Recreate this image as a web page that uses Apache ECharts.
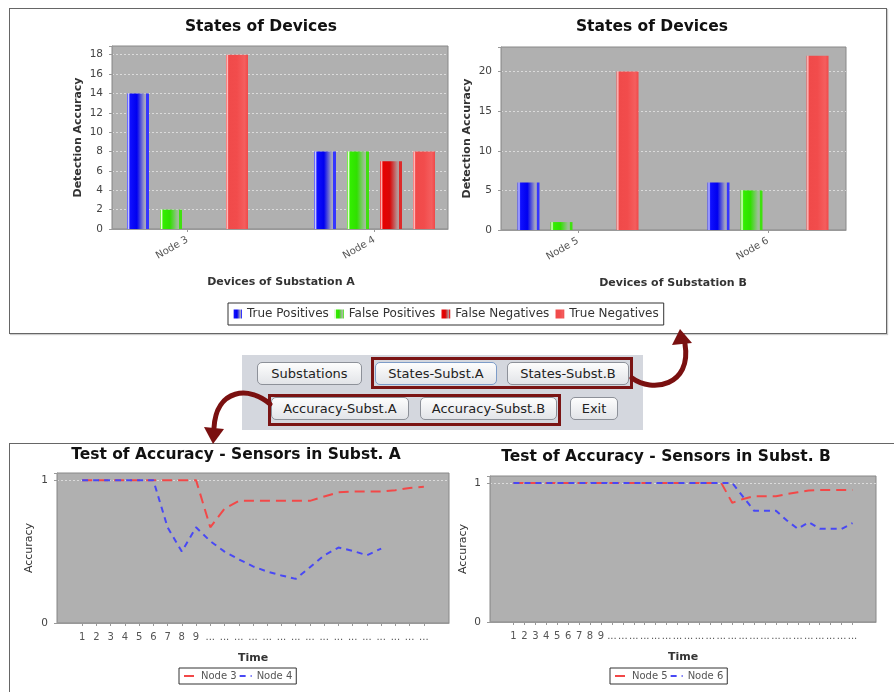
<!DOCTYPE html>
<html>
<head>
<meta charset="utf-8">
<title>States of Devices / Test of Accuracy</title>
<script src="https://cdn.jsdelivr.net/npm/echarts@6/dist/echarts.min.js"></script>
<style>
  html, body { margin:0; padding:0; background:#fff; }
  body { width:894px; height:692px; position:relative; overflow:hidden; font-family:'DejaVu Sans', sans-serif; }
  #topBox { position:absolute; left:9px; top:8px; width:876px; height:324px; border:1px solid #666; box-shadow:1px 1px 1px rgba(0,0,0,0.2); background:#fff; }
  #botBox { position:absolute; left:9px; top:443px; width:900px; height:260px; border:1px solid #666; background:#fff; }
  #chart { position:absolute; left:0; top:0; width:894px; height:692px; z-index:1; }
  #panel { position:absolute; left:242px; top:355px; width:401px; height:75px; background:#d4d7de; z-index:2; }
  .btn { position:absolute; height:23px; line-height:21px; text-align:center; font-size:13px; color:#222;
         border:1px solid #8d9199; border-radius:5px; background:linear-gradient(#fdfdfd, #e2e4e8); box-sizing:border-box; }
  .focus { border-color:#7d9cc8; }
  .sel { position:absolute; border:3px solid #7a1414; box-sizing:border-box; }
  #arrows { position:absolute; left:0; top:0; z-index:3; }
</style>
</head>
<body>
<div id="topBox"></div>
<div id="botBox"></div>
<div id="chart"></div>
<div id="panel">
  <div class="sel" style="left:129px;top:2px;width:262px;height:32px;"></div>
  <div class="sel" style="left:26px;top:39px;width:293px;height:32px;"></div>
  <div class="btn" style="left:15px;top:7px;width:105px;">Substations</div>
  <div class="btn focus" style="left:133px;top:7px;width:122px;">States-Subst.A</div>
  <div class="btn" style="left:265px;top:7px;width:122px;">States-Subst.B</div>
  <div class="btn" style="left:29px;top:42px;width:138px;">Accuracy-Subst.A</div>
  <div class="btn" style="left:178px;top:42px;width:137px;">Accuracy-Subst.B</div>
  <div class="btn" style="left:328px;top:42px;width:48px;">Exit</div>
</div>
<svg id="arrows" width="894" height="692">
  <path d="M632,378 C652,393 692,386 685,344" fill="none" stroke="#7a1010" stroke-width="5" stroke-linecap="round"/>
  <polygon points="680,329 672,345 692,343" fill="#7a1010"/>
  <path d="M270,404 C250,386 216,388 214,428" fill="none" stroke="#7a1010" stroke-width="5" stroke-linecap="round"/>
  <polygon points="213,444 204,427 224,429" fill="#7a1010"/>
</svg>
<script>
// bar chart data
const devicesA = ['Node 3', 'Node 4'];
const devicesB = ['Node 5', 'Node 6'];
const stateNames = ['True Positives', 'False Positives', 'False Negatives', 'True Negatives'];
const truePosA = [14, 8];
const falsePosA = [2, 8];
const falseNegA = [0, 7];
const trueNegA = [18, 8];
const truePosB = [6, 6];
const falsePosB = [1, 5];
const falseNegB = [0, 0];
const trueNegB = [20, 22];

// accuracy over time
const timeA = ['1','2','3','4','5','6','7','8','9',
  '...','...','...','...','...','...','...','...','...','...','...','...','...','...','...','...'];
const timeB = ['1','2','3','4','5','6','7','8','9',
  '...','...','...','...','...','...','...','...','...','...','...','...',
  '...','...','...','...','...','...','...','...','...','...','...'];
const node3 = [1,1,1,1,1,1,1,1,1,0.67,0.80,0.855,0.855,0.855,0.855,0.855,0.855,0.885,0.915,0.92,0.92,0.92,0.93,0.945,0.953];
const node4 = [1,1,1,1,1,1,0.67,0.50,0.67,0.573,0.50,0.446,0.396,0.36,0.333,0.309,0.39,0.474,0.528,0.505,0.474,0.521,null,null,null];
const node5 = [1,1,1,1,1,1,1,1,1,1,1,1,1,1,1,1,1,1,1,1,0.857,0.885,0.905,0.905,0.905,0.92,0.933,0.945,0.95,0.95,0.95,0.95];
const node6 = [1,1,1,1,1,1,1,1,1,1,1,1,1,1,1,1,1,1,1,1,1,0.90,0.80,0.80,0.80,0.73,0.67,0.718,0.67,0.67,0.67,0.711];

const font = 'DejaVu Sans';
const red = '#f24848', blue = '#4848f5';

function grad(stops){
  return new echarts.graphic.LinearGradient(0, 0, 1, 0, stops.map(s => ({ offset: s[0], color: s[1] })));
}
const barColors = [
  grad([[0,'#3d3dff'],[0.07,'#c8c8ff'],[0.14,'#1010ff'],[0.45,'#0000f0'],[0.78,'#9c9cc4'],[0.86,'#aaaab8'],[0.88,'#3535ff'],[1,'#3535ff']]),
  grad([[0,'#44e010'],[0.07,'#e8ffd8'],[0.14,'#33ee00'],[0.45,'#30e000'],[0.78,'#98c090'],[0.86,'#a8b8a0'],[0.88,'#40e010'],[1,'#40e010']]),
  grad([[0,'#e82020'],[0.07,'#ffb0b0'],[0.14,'#e80000'],[0.45,'#d80808'],[0.78,'#b89090'],[0.86,'#b0a0a0'],[0.88,'#dd2a2a'],[1,'#dd2a2a']]),
  grad([[0,'#f45a5a'],[0.06,'#ffc8c8'],[0.12,'#f04a4a'],[0.5,'#f24c4c'],[0.85,'#f45e5e'],[1,'#f04848']])
];

const tickFmt = step => v => Number.isInteger(Math.round(v * 1000) / 1000 / step) ? String(v) : '';

function frameX(g){
  return { gridIndex: g, type: 'value', min: 0, max: 1, offset: 2,
    axisLine: { show: true, lineStyle: { color: '#999' } },
    axisTick: { show: false }, axisLabel: { show: false }, splitLine: { show: false } };
}
function frameY(g, max, step, name, gap, bold){
  return { gridIndex: g, type: 'value', min: 0, max: max, interval: step, offset: 2,
    name: name, nameLocation: 'middle', nameGap: gap,
    nameTextStyle: { fontFamily: font, fontSize: 11, fontWeight: bold ? 'bold' : 'normal', color: '#333' },
    axisLine: { show: true, lineStyle: { color: '#999' } },
    axisTick: { show: true, length: 3, lineStyle: { color: '#999' } },
    axisLabel: { margin: 7, color: '#444', fontSize: 10.5, fontFamily: font, formatter: tickFmt(step) },
    splitLine: { show: true, showMinLine: false, showMaxLine: false, lineStyle: { color: 'rgba(255,255,255,0.55)', type: [2, 2] } } };
}
function catX(g, data, name, gap, rotate, margin){
  return { gridIndex: g, type: 'category', data: data, offset: 2,
    name: name, nameLocation: 'middle', nameGap: gap,
    nameTextStyle: { fontFamily: font, fontSize: 11, fontWeight: 'bold', color: '#333' },
    axisLine: { show: false },
    axisTick: { show: true, alignWithLabel: true, interval: 0, length: 3, lineStyle: { color: '#999' } },
    axisLabel: { interval: 0, rotate: rotate, margin: margin, color: '#555', fontSize: 10, fontFamily: font },
    splitLine: { show: false } };
}
function hiddenY(g, max){
  return { gridIndex: g, type: 'value', min: 0, max: max, show: false };
}
const frameStyle = { show: true, backgroundColor: '#b0b0b0', borderColor: '#888', borderWidth: 1, outerBoundsMode: 'none' };

function bars(values, x){
  return values.map((d, i) => ({
    name: stateNames[i], type: 'bar', xAxisIndex: x, yAxisIndex: x, data: d,
    barWidth: 22, barGap: '50%', itemStyle: { color: barColors[i] }
  }));
}
function line(name, data, x, color, dash){
  return { name: name, type: 'line', xAxisIndex: x, yAxisIndex: x, data: data, symbol: 'none',
    lineStyle: { color: color, width: 2, type: dash }, itemStyle: { color: color } };
}
function lineLegend(names, left){
  return { data: names, left: left, top: 668, padding: [3, 4, 3, 4], itemGap: 2, itemWidth: 12, itemHeight: 6,
    itemStyle: { opacity: 0 }, borderColor: '#333', borderWidth: 1,
    textStyle: { fontSize: 10, color: '#555', fontFamily: font } };
}

const chart = echarts.init(document.getElementById('chart'));
chart.setOption({
  animation: false,
  backgroundColor: 'transparent',
  textStyle: { fontFamily: font },
  title: [
    { text: 'States of Devices', left: 261, top: 19, textAlign: 'center', padding: 0, textStyle: { fontSize: 15.5, fontWeight: 'bold', color: '#111' } },
    { text: 'States of Devices', left: 652, top: 19, textAlign: 'center', padding: 0, textStyle: { fontSize: 15.5, fontWeight: 'bold', color: '#111' } },
    { text: 'Test of Accuracy - Sensors in Subst. A', left: 236, top: 447, textAlign: 'center', padding: 0, textStyle: { fontSize: 15.5, fontWeight: 'bold', color: '#111' } },
    { text: 'Test of Accuracy - Sensors in Subst. B', left: 666, top: 449, textAlign: 'center', padding: 0, textStyle: { fontSize: 15.5, fontWeight: 'bold', color: '#111' } }
  ],
  legend: [
    { data: stateNames, left: 228, top: 303, padding: [5, 5, 5, 5], itemGap: 6, itemWidth: 9, itemHeight: 9, icon: 'rect',
      borderColor: '#333', borderWidth: 1, textStyle: { fontSize: 12, color: '#333', fontFamily: font } },
    lineLegend(['Node 3', 'Node 4'], 179),
    lineLegend(['Node 5', 'Node 6'], 610)
  ],
  grid: [
    Object.assign({ left: 112, top: 46, width: 336, height: 183 }, frameStyle),
    { left: 94, top: 46, width: 374, height: 183, outerBoundsMode: 'none' },
    Object.assign({ left: 501, top: 47, width: 345, height: 183 }, frameStyle),
    { left: 483, top: 47, width: 380, height: 183, outerBoundsMode: 'none' },
    Object.assign({ left: 57, top: 473, width: 392, height: 150 }, frameStyle),
    { left: 75, top: 473, width: 356, height: 150, outerBoundsMode: 'none' },
    Object.assign({ left: 490, top: 476, width: 386, height: 146 }, frameStyle),
    { left: 508, top: 476, width: 350, height: 146, outerBoundsMode: 'none' }
  ],
  xAxis: [
    frameX(0), catX(1, devicesA, 'Devices of Substation A', 46, 30, 8),
    frameX(2), catX(3, devicesB, 'Devices of Substation B', 46, 30, 8),
    frameX(4), catX(5, timeA, 'Time', 28, 0, 7),
    frameX(6), catX(7, timeB, 'Time', 28, 0, 7)
  ],
  yAxis: [
    frameY(0, 18.9, 2, 'Detection Accuracy', 26, true), hiddenY(1, 18.9),
    frameY(2, 23.1, 5, 'Detection Accuracy', 26, true), hiddenY(3, 23.1),
    frameY(4, 1.05, 1, 'Accuracy', 20, false), hiddenY(5, 1.05),
    frameY(6, 1.05, 1, 'Accuracy', 19, false), hiddenY(7, 1.05)
  ],
  series: [].concat(
    bars([truePosA, falsePosA, falseNegA, trueNegA], 1),
    bars([truePosB, falsePosB, falseNegB, trueNegB], 3),
    [line('Node 3', node3, 5, red, [10, 6]), line('Node 4', node4, 5, blue, [6, 5]),
     line('Node 5', node5, 7, red, [10, 6]), line('Node 6', node6, 7, blue, [6, 5])]
  )
});
</script>
</body>
</html>
